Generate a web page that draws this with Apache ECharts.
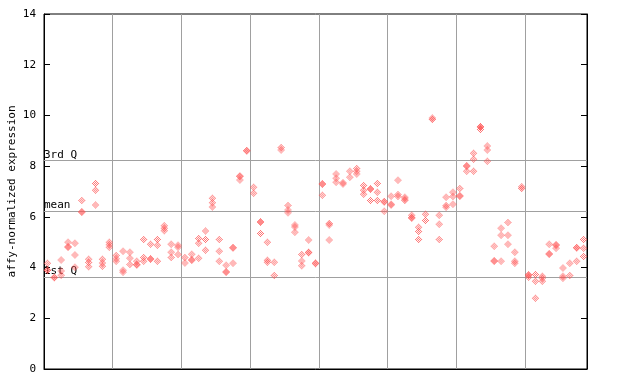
<!DOCTYPE html>
<html><head><meta charset="utf-8">
<script src="https://cdn.jsdelivr.net/npm/echarts@6/dist/echarts.min.js"></script>
<style>html,body{margin:0;padding:0;background:#fff}#c{width:640px;height:384px}</style>
</head><body><div id="c"></div>
<script>
// sample indices (79 samples, 8 groups of 10 with last group 9)
const samples = Array.from({length: 79}, (_, i) => String(i + 1));
const rep1 = [4.17,3.62,4.3,5.0,4.96,6.65,4.33,7.32,4.33,5.0,
  4.48,4.64,4.6,4.25,5.11,4.92,5.11,5.65,4.92,4.88,
  4.4,4.53,5.15,5.44,6.73,5.11,4.09,4.79,7.61,8.62,
  7.17,5.81,5.0,4.21,8.74,6.45,5.68,4.52,5.09,4.18,
  7.31,5.74,7.69,7.35,7.8,7.91,7.24,7.11,7.32,6.61,
  6.81,7.44,6.77,6.06,5.59,6.1,9.9,6.06,6.77,6.97,
  7.12,8.02,8.51,9.56,8.79,4.84,5.55,5.78,4.6,7.19,
  3.72,3.73,3.66,4.92,4.9,3.98,4.17,4.79,5.11];
const rep2 = [3.9,3.6,3.86,4.82,4.5,6.2,4.2,7.05,4.18,4.9,
  4.35,3.89,4.37,4.12,4.4,4.35,4.88,5.55,4.6,4.8,
  4.18,4.31,4.96,5.11,6.56,4.64,3.84,4.77,7.59,8.6,
  6.93,5.79,4.29,3.69,8.64,6.27,5.6,4.26,4.6,4.15,
  7.29,5.68,7.52,7.3,7.56,7.8,7.05,7.09,6.97,6.59,
  6.5,6.88,6.7,5.97,5.42,5.86,9.84,5.71,6.45,6.8,
  6.83,8.0,8.27,9.53,8.64,4.27,5.27,5.27,4.25,7.12,
  3.7,3.46,3.58,4.55,4.88,3.66,3.69,4.77,4.76];
const rep3 = [3.88,null,3.7,4.8,4.01,6.18,4.03,6.47,4.05,4.8,
  4.25,3.82,4.12,4.1,4.25,4.33,4.25,5.45,4.4,4.52,
  null,4.29,4.37,4.68,6.39,4.25,3.82,4.17,7.45,null,
  null,5.34,4.21,null,null,6.16,5.39,4.07,4.58,null,
  6.85,5.09,7.36,null,null,7.69,6.89,6.65,6.65,6.22,
  6.47,6.8,6.65,5.95,5.11,null,null,5.11,6.38,6.5,
  6.81,7.8,7.8,9.45,8.19,4.25,4.25,4.92,4.17,null,
  3.62,2.79,3.46,4.53,4.76,3.58,null,4.25,4.44];
const quartileNames = ['3rd Q', 'mean', '1st Q'];
const quartileValues = [8.23, 6.23, 3.63];
const yTicks = [0, 2, 4, 6, 8, 10, 12, 14];

// checkered hollow diamond symbol
let p = '';
for (let y = 0; y < 7; y++) for (let x = 0; x < 7; x++) {
  const d = Math.abs(x - 3) + Math.abs(y - 3);
  if (d <= 3 && d % 2 === 1) p += 'M' + x + ' ' + y + 'h1v1h-1z';
}
const sym = 'path://' + p;
const RED = '#ff5050';
const FONT = 'DejaVu Sans Mono';

function sc(name, data, withMark) {
  const s = {
    type: 'scatter', name, data, symbol: sym, symbolSize: 7,
    itemStyle: {color: RED}, silent: true, z: 3
  };
  if (withMark) {
    s.markLine = {
      silent: true, symbol: 'none', z: 1,
      lineStyle: {color: '#a0a0a0', width: 1, type: 'solid'},
      label: {position: 'insideStartTop', formatter: '{b}', color: '#000',
        fontFamily: FONT, fontSize: 11, distance: [0, 0], padding: 0},
      emphasis: {disabled: true},
      data: quartileNames.map((n, k) => ({name: n, yAxis: quartileValues[k]}))
    };
  }
  return s;
}

const chart = echarts.init(document.getElementById('c'), null, {renderer: 'canvas'});
chart.setOption({
  animation: false,
  grid: {left: 44, right: 53, top: 14, bottom: 15, containLabel: false, outerBoundsMode: 'none',
    show: true, borderColor: '#000', borderWidth: 1, backgroundColor: 'transparent'},
  xAxis: {
    type: 'category', data: samples, boundaryGap: true,
    axisLine: {show: true, lineStyle: {color: '#000'}},
    axisTick: {show: false}, axisLabel: {show: false},
    splitLine: {show: true, interval: (i) => i % 10 === 0 && i > 0, lineStyle: {color: '#a0a0a0', width: 1}}
  },
  yAxis: [{
    type: 'value', min: 0, max: 14, interval: 2,
    name: 'affy-normalized expression', nameLocation: 'middle', nameGap: 26, nameMoveOverlap: false,
    nameTextStyle: {fontFamily: FONT, fontSize: 11, color: '#000'},
    axisLine: {show: true, lineStyle: {color: '#000'}},
    axisTick: {show: true, inside: true, length: 6, lineStyle: {color: '#000'}},
    axisLabel: {fontFamily: FONT, fontSize: 11, color: '#000', margin: 8,
      formatter: (v) => yTicks.includes(v) ? String(v) : ''},
    splitLine: {show: false}
  }, {
    type: 'value', min: 0, max: 14, interval: 2, position: 'right',
    axisLine: {show: true, lineStyle: {color: '#000'}},
    axisTick: {show: true, inside: true, length: 6, lineStyle: {color: '#000'}},
    axisLabel: {show: false}, splitLine: {show: false}
  }],
  series: [sc('rep1', rep1, true), sc('rep2', rep2, false), sc('rep3', rep3, false)]
});
</script></body></html>
